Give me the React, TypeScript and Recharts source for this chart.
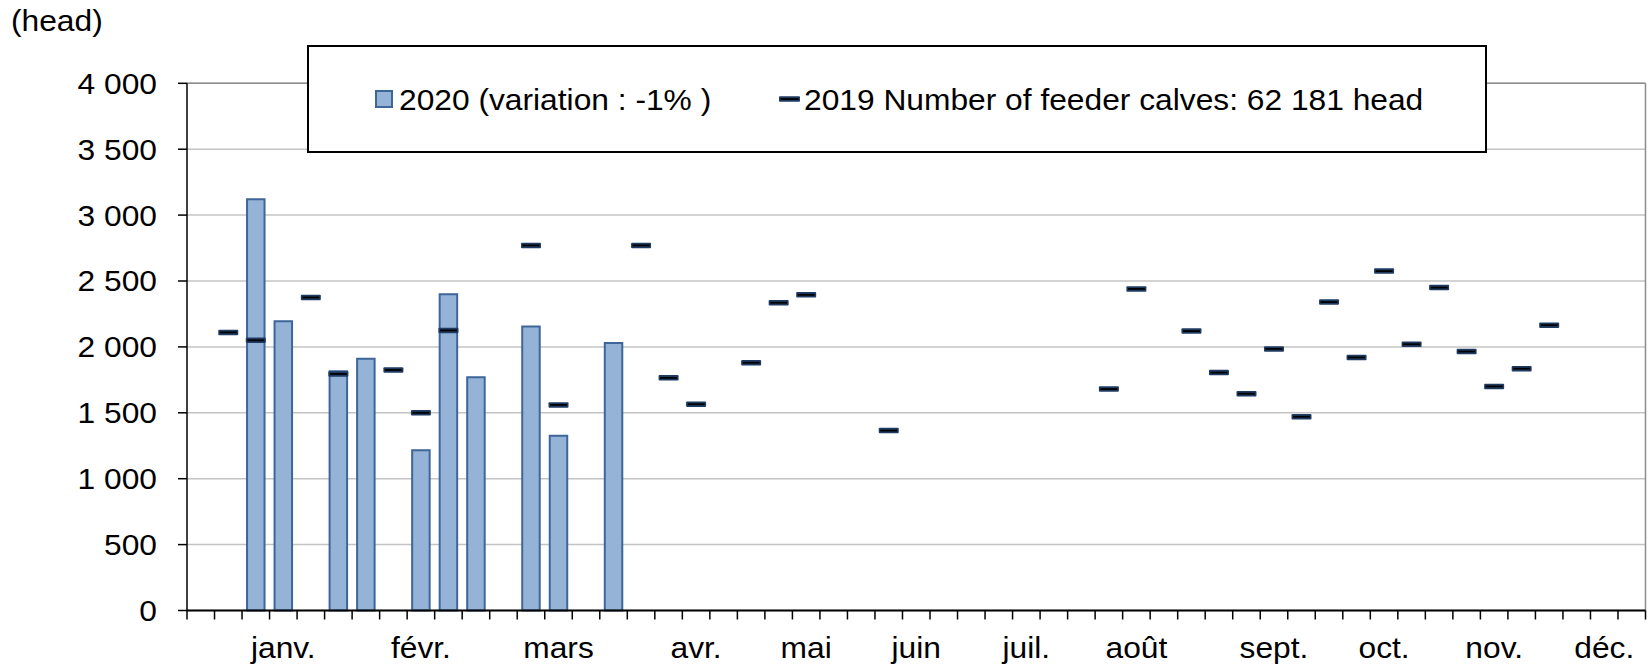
import React from 'react';
import {
  ComposedChart,
  Bar,
  Scatter,
  XAxis,
  YAxis,
  CartesianGrid,
  Legend,
  ReferenceLine,
} from 'recharts';

// ---- data ----
const weeks = [
  1, 2, 3, 4, 5, 6, 7, 8, 9, 10, 11, 12, 13, 14, 15, 16, 17, 18, 19, 20, 21, 22, 23, 24, 25, 26,
  27, 28, 29, 30, 31, 32, 33, 34, 35, 36, 37, 38, 39, 40, 41, 42, 43, 44, 45, 46, 47, 48, 49, 50,
  51, 52, 53,
];

const values2020: (number | null)[] = [
  null, null, 3120, 2195, null, 1815, 1910, null, 1215, 2400, 1770, null, 2155, 1325, null, 2030,
  null, null, null, null, null, null, null, null, null, null, null, null, null, null, null, null,
  null, null, null, null, null, null, null, null, null, null, null, null, null, null, null, null,
  null, null, null, null, null,
];

const values2019: (number | null)[] = [
  null, 2110, 2050, null, 2375, 1795, null, 1825, 1500, 2125, null, null, 2770, 1560, null, null,
  2770, 1765, 1565, null, 1880, 2335, 2395, null, null, 1365, null, null, null, null, null, null,
  null, 1680, 2440, null, 2120, 1805, 1645, 1985, 1470, 2340, 1920, 2575, 2020, 2450, 1965, 1700,
  1835, 2165, null, null, null,
];

const monthLabels = ['janv.', 'févr.', 'mars', 'avr.', 'mai', 'juin', 'juil.', 'août', 'sept.', 'oct.', 'nov.', 'déc.'];
const monthLabelWeeks = [4, 9, 14, 19, 23, 27, 31, 35, 40, 44, 48, 52];

const yTicks = [0, 500, 1000, 1500, 2000, 2500, 3000, 3500, 4000];

const legend2020 = '2020 (variation : -1% )';
const legend2019 = '2019 Number of feeder calves: 62 181 head';
const unitLabel = '(head)';

// ---- derived tables ----
const data = weeks.map((w, i) => ({ x: w - 0.5, v2020: values2020[i], v2019: values2019[i] }));
const data2019 = data.filter((d) => d.v2019 != null);
const boundaryTicks = [0, ...weeks];
const labelTicks = monthLabelWeeks.map((w) => w - 0.5);
const xTicks = [...boundaryTicks, ...labelTicks].sort((a, b) => a - b);

// ---- styling ----
const FONT = '"Liberation Sans", Arial, Helvetica, sans-serif';
const SX = 1.095;
const FS = 29;
const BAR_FILL = '#95B3D7';
const BAR_STROKE = '#3E6699';

const ScaledText = ({ x, y, anchor = 'start', children }: any) => (
  <text
    transform={`translate(${x},${y}) scale(${SX},1)`}
    x={0}
    y={0}
    textAnchor={anchor}
    fontFamily={FONT}
    fontSize={FS}
    fill="#000"
  >
    {children}
  </text>
);

const fmt = (v: number) =>
  v >= 1000 ? `${Math.floor(v / 1000)} ${String(v % 1000).padStart(3, '0')}` : String(v);

const YTick = (props: any) => {
  const { x, y, payload } = props;
  return (
    <ScaledText x={x} y={y + 10.4} anchor="end">
      {fmt(payload.value)}
    </ScaledText>
  );
};

const XTick = (props: any) => {
  const { x, y, payload } = props;
  const v = payload.value;
  if (Number.isInteger(v)) {
    return <line x1={x} x2={x} y1={y} y2={y + 9} stroke="#000" strokeWidth={1.5} />;
  }
  const idx = monthLabelWeeks.indexOf(v + 0.5);
  if (idx < 0) return null;
  return (
    <ScaledText x={x} y={y + 47.5} anchor="middle">
      {monthLabels[idx]}
    </ScaledText>
  );
};

const Dash = (props: any) => {
  const { cx, cy } = props;
  if (cx == null || cy == null) return null;
  return (
    <g>
      <rect x={cx - 10} y={cy - 2.75} width={20} height={5.5} rx={1} fill="#1F3B62" />
      <line x1={cx - 8.5} x2={cx + 8.5} y1={cy} y2={cy} stroke="#000" strokeWidth={1.8} />
    </g>
  );
};

const renderLegend = () => (
  <svg width={1180} height={108} style={{ display: 'block' }}>
    <rect x={1} y={1} width={1178} height={106} fill="#fff" stroke="#000" strokeWidth={2} />
    <rect x={69} y={46} width={16} height={16} fill={BAR_FILL} stroke={BAR_STROKE} strokeWidth={2} />
    <ScaledText x={92} y={65}>{legend2020}</ScaledText>
    <rect x={472} y={51.25} width={21} height={5.5} rx={1} fill="#1F3B62" />
    <line x1={473.5} x2={491.5} y1={54} y2={54} stroke="#000" strokeWidth={1.8} />
    <ScaledText x={497} y={65}>{legend2019}</ScaledText>
  </svg>
);

export default function App() {
  return (
    <div style={{ position: 'absolute', left: 0, top: 0, width: 1649, height: 667, background: '#fff' }}>
      <ComposedChart
        width={1649}
        height={667}
        data={data}
        margin={{ top: 83.3, right: 3.5, bottom: 0, left: 0 }}
      >
        <CartesianGrid horizontal vertical={false} stroke="#C4C4C4" strokeWidth={1.5} />
        <ReferenceLine y={4000} stroke="#8C8C8C" strokeWidth={1.5} />
        <ReferenceLine x={53} stroke="#8C8C8C" strokeWidth={1.5} />
        <XAxis
          dataKey="x"
          type="number"
          domain={[0, 53]}
          ticks={xTicks}
          interval={0}
          height={56.5}
          tickLine={false}
          tickSize={0}
          tickMargin={0}
          axisLine={{ stroke: '#000', strokeWidth: 2 }}
          tick={<XTick />}
        />
        <YAxis
          type="number"
          domain={[0, 4000]}
          ticks={yTicks}
          interval={0}
          width={187}
          tickSize={9}
          tickMargin={21}
          tickLine={{ stroke: '#000', strokeWidth: 1.5 }}
          axisLine={{ stroke: '#000', strokeWidth: 1.5 }}
          tick={<YTick />}
          label={{
            content: () => (
              <ScaledText x={11} y={31}>
                {unitLabel}
              </ScaledText>
            ),
          }}
        />
        <Bar
          dataKey="v2020"
          barSize={17.5}
          fill={BAR_FILL}
          stroke={BAR_STROKE}
          strokeWidth={2}
          isAnimationActive={false}
        />
        <Scatter
          data={data2019}
          dataKey="v2019"
          shape={<Dash />}
          isAnimationActive={false}
        />
        <Legend
          layout="vertical"
          verticalAlign="middle"
          align="center"
          wrapperStyle={{ left: 307, top: 45, width: 1180, height: 108 }}
          content={renderLegend}
        />
      </ComposedChart>
    </div>
  );
}
